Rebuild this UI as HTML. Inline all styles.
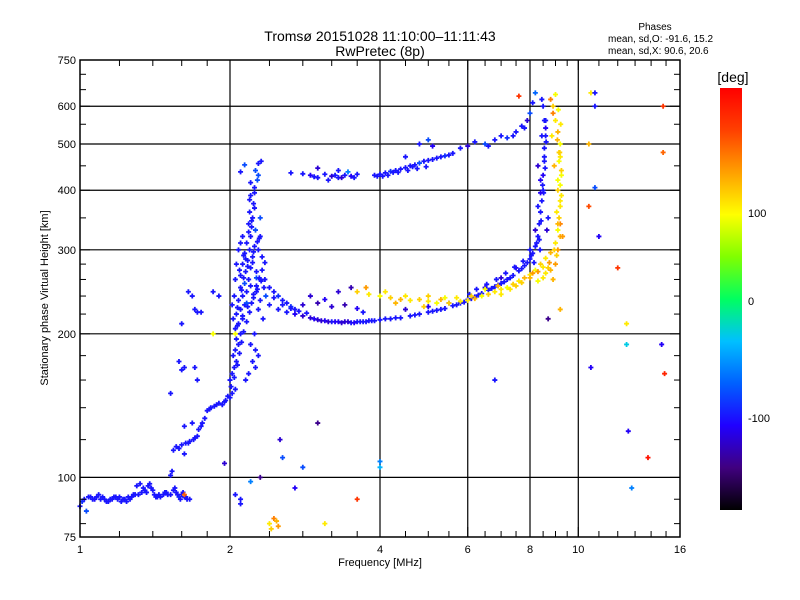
<!DOCTYPE html>
<html><head><meta charset="utf-8"><style>
body{margin:0;background:#fff;}
svg{display:block;font-family:"Liberation Sans",sans-serif;}
</style></head><body>
<svg id="c" width="800" height="600" viewBox="0 0 800 600" xmlns="http://www.w3.org/2000/svg">
<defs>
<linearGradient id="cb" x1="0" y1="1" x2="0" y2="0">
<stop offset="0" stop-color="#000000"/><stop offset="0.1" stop-color="#40007f"/><stop offset="0.2" stop-color="#2000ff"/><stop offset="0.3" stop-color="#0060ff"/><stop offset="0.4" stop-color="#00c0ff"/><stop offset="0.5" stop-color="#00ff60"/><stop offset="0.6" stop-color="#80ff00"/><stop offset="0.7" stop-color="#ffff00"/><stop offset="0.8" stop-color="#ffa000"/><stop offset="0.9" stop-color="#ff4000"/><stop offset="1" stop-color="#ff0000"/>
</linearGradient>
</defs>
<text x="380" y="41" text-anchor="middle" font-size="14">Tromsø 20151028 11:10:00–11:11:43</text>
<text x="380" y="56" text-anchor="middle" font-size="14">RwPretec (8p)</text>
<text x="655" y="30" text-anchor="middle" font-size="10">Phases</text>
<text x="608" y="42" font-size="10">mean, sd,O: -91.6, 15.2</text>
<text x="608" y="54" font-size="10">mean, sd,X:  90.6, 20.6</text>
<g id="grid"></g>
<g id="pts"></g>
<rect x="80" y="60" width="600" height="477" fill="none" stroke="#000" stroke-width="1.5"/>
<g id="ticks"></g>
<text transform="translate(48,298) rotate(-90)" text-anchor="middle" font-size="11">Stationary phase Virtual Height [km]</text>
<text x="380" y="566" text-anchor="middle" font-size="11">Frequency [MHz]</text>
<rect x="720" y="88" width="22" height="422" fill="url(#cb)"/>
<text x="733" y="82" text-anchor="middle" font-size="14">[deg]</text>
<text x="748" y="217" font-size="11">100</text>
<text x="748" y="305" font-size="11">0</text>
<text x="748" y="422" font-size="11">-100</text>
</svg>
<script>
const xTicks=[1,2,4,6,8,10,16];
const xGrid=[2,4,6,8,10];
const xMinor=[1.2,1.4,1.6,1.8,2.4,2.8,3.2,3.6,4.5,5,5.5,6.5,7,7.5,8.5,9,9.5,11,12,13,14,15];
const yTicks=[75,100,200,300,400,500,600,750];
const yGrid=[100,200,300,400,500,600];
const yMinor=[80,90,120,140,160,180,220,240,260,280,350,450,550,650,700];
// E trace
const eF=[1.0,1.01,1.02,1.04,1.05,1.07,1.08,1.1,1.12,1.13,1.15,1.17,1.19,1.21,1.23,1.25,1.27,1.29,1.31,1.33,1.35,1.37,1.39,1.41,1.43,1.45,1.47,1.49,1.52,1.54,1.56,1.58,1.6,1.62,1.64,1.66,1.3,1.32,1.52,1.53,1.03,1.09,1.18,1.36,1.06,1.11,1.14,1.16,1.2,1.22,1.24,1.26,1.28,1.34,1.38,1.4,1.42,1.44,1.48,1.5,1.55,1.57,1.59,1.61,1.63];
const eH=[87,89,90,91,91,90,91,90,90,89,90,91,90,89,90,91,91,92,92,93,94,96,95,92,91,91,92,93,92,94,93,91,92,91,90,90,96,97,101,103,85,92,91,93,90,91,89,90,91,90,89,90,92,95,97,94,91,92,93,92,95,92,90,93,91];
const eP=[-100,-90,-100,-100,-100,-105,-100,-100,-100,-100,-100,-100,-100,-100,-100,-100,-100,-100,-100,-100,-100,-100,-100,-100,-100,-100,-100,-100,-100,-100,-100,-90,-100,-100,-100,-100,-100,-100,-100,-100,-80,-100,-100,-100,-100,-100,-100,-100,-100,-100,-100,-100,-100,-100,-100,-100,-100,-100,-100,-100,-100,-100,-100,-100,-100];
// rising trace and spread column
const cF=[1.54,1.56,1.6,1.63,1.66,1.7,1.72,1.73,1.76,1.78,1.8,1.83,1.86,1.9,1.93,1.96,2.0,2.02,2.05,2.0,2.02,2.04,2.06,2.03,2.05,2.08,2.06,2.1,2.05,2.08,2.12,2.06,2.1,2.14,2.08,2.12,2.16,2.1,2.14,2.18,2.1,2.15,2.2,2.12,2.17,2.22,2.14,2.19,2.24,2.16,2.2,2.25,2.18,2.22,2.19,2.23,2.2,2.24,2.27,2.25,2.28,2.24,2.3,2.3,2.28,2.32,2.26,2.3,2.34,2.26,2.3,2.36,2.28,2.33,2.24,2.2,2.25,2.28,2.22,2.18,2.15,2.25,2.04,2.05,2.06,2.08,2.1,2.12,2.02,2.03,2.16,2.2,2.13,2.09,2.22,2.27,2.18,2.21,2.07,2.11,2.15,2.23,2.26,2.17,2.13,2.29,2.21,2.24,2.19,2.28,2.31,2.14,2.1,2.2,1.58,1.65,1.69,1.75,1.82,1.88,1.95,1.98,2.01,2.04,2.07,2.09,2.11,2.13,2.16,2.19,2.21,2.23,2.26,2.29,2.32,2.35,2.07,2.12,2.17,2.23,2.27,2.31];
const cH=[114,116,117,118,119,121,122,126,130,133,138,140,141,143,142,145,147,150,153,160,165,170,175,180,185,190,195,200,205,210,215,220,225,230,235,240,245,250,255,260,265,270,275,280,285,290,295,300,305,310,320,330,340,350,360,375,390,405,420,440,455,395,350,320,300,290,270,260,250,245,235,240,225,215,200,190,185,180,175,165,160,170,240,260,280,300,310,320,230,215,232,252,262,272,282,312,327,345,227,247,287,297,262,277,292,317,335,367,382,430,460,452,437,415,115,118,120,128,139,142,144,148,155,162,172,182,192,202,212,222,232,242,252,262,272,282,208,218,228,238,248,258];
const cP=[-100,-100,-100,-100,-100,-100,-100,-100,-100,-100,-100,-100,-100,-100,-100,-100,-100,-100,-100,-100,-100,-100,-100,-100,-100,-100,-100,-100,-100,-100,-100,-100,-100,-100,-100,-100,-100,-100,-80,-100,-100,-100,-100,-100,-100,-100,-100,-100,-100,-100,-100,-80,-100,-100,-100,-100,-100,-100,-80,-80,-100,-100,-80,-100,-100,-100,-100,-100,-100,-100,-100,-80,-100,-100,-100,-100,-100,-100,-100,-100,-100,-100,-100,-100,-100,-100,-100,-100,-100,-100,-80,-100,-100,-100,-100,-100,-100,-100,-100,-100,-100,-100,-80,-100,-100,-100,-100,-100,-100,-80,-100,-80,-100,-100,-100,-100,-100,-100,-100,-100,-100,-100,-100,-100,-100,-100,-100,-100,-100,-100,-100,-100,-100,-100,-100,-100,-100,-100,-100,-100,-100,-100];
// lower F trace (O mode)
const oF=[2.35,2.4,2.45,2.5,2.55,2.6,2.65,2.7,2.4,2.5,2.6,2.7,2.8,2.9,3.0,3.1,3.2,3.3,3.4,3.5,3.6,3.7,3.8,3.9,4.0,4.2,4.4,4.6,4.8,5.0,5.2,5.4,5.6,5.8,6.0,6.2,6.4,6.6,6.8,7.0,7.2,7.4,7.6,7.8,8.0,8.1,8.2,8.3,8.35,8.4,8.45,8.5,8.5,8.55,8.55,8.6,8.55,8.5,8.45,2.8,3.0,3.2,3.4,3.6,2.9,3.3,3.5,3.1,3.7,4.5,5.0,5.5,6.5,7.0,7.5,8.0,8.2,8.3,8.4,8.3,8.45,8.6,2.95,3.05,3.15,3.25,3.35,3.45,3.55,3.65,3.75,3.85,4.1,4.3,4.7,5.1,5.3,5.7,5.9,6.1,6.3,6.7,6.9,7.1,7.3,7.7,7.9,8.25,8.55,8.6,8.48,8.65,8.7,2.45,2.55,2.65,2.75,2.85,6.05,6.25,6.55,6.85,7.15,7.45,7.75,8.05,8.15,8.38,8.42,8.52,8.58,8.62,8.4,8.35];
const oH=[260,250,245,240,235,232,228,225,230,225,222,220,218,216,214,213,212,212,212,211,212,212,213,213,214,215,216,218,220,222,224,226,229,232,236,239,243,247,251,255,260,265,271,278,287,295,305,320,340,360,380,400,430,460,490,520,560,600,620,230,232,228,230,226,240,245,250,236,222,225,228,232,250,262,275,300,330,370,420,450,520,560,215,213,212,212,211,212,211,212,212,213,215,216,219,223,225,230,233,237,241,249,253,257,262,274,282,310,470,540,410,330,350,238,230,226,223,221,242,248,254,260,268,276,284,292,282,300,345,395,445,505,395,315];
const oP=[-100,-100,-100,-90,-100,-100,-90,-100,-100,-100,-100,-110,-120,-120,-120,-110,-100,-110,-120,-100,-100,-100,-100,-100,-100,-100,-100,-100,-100,-100,-100,-100,-100,-100,-100,-100,-100,-100,-100,-100,-100,-100,-100,-100,-100,-100,-100,-100,-100,-100,-100,-100,-110,-100,-100,-100,-100,-100,-100,-120,-130,-120,-130,-110,-120,-120,-130,-110,-100,-120,-110,-100,-110,-120,-110,-100,-120,-100,-110,-120,-100,-100,-110,-120,-120,-110,-120,-120,-110,-100,-100,-100,-100,-100,-100,-100,-100,-100,-100,-100,-100,-100,-100,-100,-100,-100,-100,-100,-100,-110,-100,-120,-100,-100,-100,-100,-100,-100,-100,-100,-100,-100,-100,-100,-100,-100,-100,-100,-100,-100,-100,-100,-110,-100];
// X mode trace
const xF=[3.6,3.8,4.0,4.2,4.4,4.6,4.8,5.0,5.2,5.5,5.8,6.0,6.2,6.4,6.6,6.8,7.0,7.2,7.4,7.6,7.8,8.0,8.2,8.4,8.6,8.8,9.0,9.1,9.15,9.2,9.2,9.25,9.2,9.2,9.1,9.0,8.9,8.8,9.0,8.9,9.0,8.7,8.5,8.3,9.1,9.2,9.05,9.1,9.15,4.1,4.3,5.0,5.4,3.75,4.5,4.9,5.3,5.7,6.1,6.5,6.9,7.3,7.7,8.1,8.5,8.8,9.05,9.2,9.3,9.25,9.1,8.95,8.85,9.15,8.9,8.6,8.75,8.95,9.1,9.2,9.25,9.18,9.08,9.22,9.12,7.0,7.5,8.0,8.3];
const xH=[245,242,240,238,236,235,236,234,232,232,234,235,237,240,242,245,248,250,254,258,262,266,272,280,288,296,310,330,350,380,410,440,470,500,530,560,600,620,635,260,280,275,262,258,300,320,360,400,460,245,232,240,238,250,240,228,236,238,240,248,252,248,256,268,276,272,292,340,320,390,420,450,520,480,580,268,282,300,340,370,430,480,510,550,590,242,252,262,270];
const xP=[90,80,70,90,100,80,90,80,70,90,80,80,100,70,90,80,80,70,90,80,100,80,70,90,80,100,80,70,90,80,70,90,80,70,100,80,90,120,70,100,110,90,80,70,110,100,80,90,70,80,100,90,70,110,80,90,100,80,90,70,100,80,90,110,80,100,90,120,110,80,70,100,80,90,120,80,110,90,100,80,70,90,100,80,70,80,90,100,110];
// upper F trace and misc blobs
const uF=[2.9,3.0,3.1,3.2,3.3,3.4,3.5,3.6,3.0,3.3,3.45,3.9,4.0,4.1,4.2,4.3,4.4,4.5,4.6,4.7,4.8,4.9,5.0,5.2,5.4,5.6,4.8,5.0,5.1,4.5,5.8,6.0,6.2,6.5,6.8,7.0,7.2,7.5,7.7,7.9,8.0,8.1,8.2,2.65,2.8,1.85,1.9,1.65,1.68,1.7,1.72,1.75,1.6,1.58,1.6,1.62,1.7,1.72,1.68,1.62,1.52,1.62,3.15,3.35,4.05,4.25,4.65,5.3,6.6,7.4,7.8,2.95,3.25,3.55,3.95,4.15,4.35,4.55,4.75,4.95,5.1,5.5];
const uH=[430,425,432,428,425,430,428,432,445,440,437,430,432,435,438,440,443,446,450,452,456,460,462,467,472,478,500,510,495,470,490,495,505,500,510,520,515,530,545,560,580,610,640,435,433,245,240,245,240,225,222,222,210,175,168,170,170,160,130,128,150,112,420,425,428,436,448,470,495,520,540,427,430,425,428,430,436,440,444,448,464,474];
const uP=[-110,-100,-100,-120,-100,-100,-110,-100,-120,-100,-60,-100,-100,-100,-90,-100,-100,-100,-100,-100,-80,-100,-100,-100,-90,-100,-100,-80,-110,-100,-100,-120,-100,-80,-100,-100,-90,-100,-100,-120,-80,-100,-70,-100,-100,-100,-100,-100,-100,-100,-100,-100,-100,-100,-100,-100,-100,-100,-100,-100,-100,-100,-100,-120,-100,-100,-100,-100,-100,-100,-100,-100,-100,-100,-100,-100,-100,-100,-100,-100,-100,-100];
// scattered isolated echoes
const sF=[10.6,10.8,10.8,14.8,14.8,10.5,10.8,10.5,11,12,12.5,12.5,14.7,14.9,10.6,12.6,13.8,12.8,6.8,3.1,3.6,2.4,2.45,2.5,2.42,2.48,4,4,2.7,2.3,1.95,2.8,2.55,2.52,3.0,2.1,2.05,2.1,2.2,1.85,2.05,1.62,8.7,9.2,7.6];
const sH=[640,640,600,480,600,500,405,370,320,275,210,190,190,165,170,125,110,95,160,80,90,80,82,79,78,81,105,108,95,100,107,105,110,120,130,90,92,88,98,200,200,92,215,225,630];
const sP=[80,-100,-100,130,150,100,-80,140,-110,150,80,-30,-110,160,-110,-110,170,-60,-100,80,150,80,120,110,90,100,-40,-60,-110,-140,-120,-80,-80,-120,-140,-100,-100,-100,-60,70,70,130,-140,100,150];

const X0=80,X1=680,Y0=537,Y1=60;
function xs(f){return X0+(X1-X0)*Math.log2(f)/4;}
function ys(h){return Y0-(Y0-Y1)*Math.log10(h/75);}
const stops=[[0,[0,0,0]],[0.1,[64,0,127]],[0.2,[32,0,255]],[0.3,[0,96,255]],[0.4,[0,192,255]],[0.5,[0,255,96]],[0.6,[128,255,0]],[0.7,[255,255,0]],[0.8,[255,160,0]],[0.9,[255,64,0]],[1,[255,0,0]]];
function col(p){let t=(p+180)/360;t=Math.max(0,Math.min(1,t));
 for(let i=1;i<stops.length;i++){if(t<=stops[i][0]){const a=stops[i-1],b=stops[i];const u=(t-a[0])/(b[0]-a[0]);
 return 'rgb('+a[1].map((v,k)=>Math.round(v+(b[1][k]-v)*u)).join(',')+')';}}return 'red';}
const NS='http://www.w3.org/2000/svg';
function mk(tag,attrs,parent){const e=document.createElementNS(NS,tag);for(const k in attrs)e.setAttribute(k,attrs[k]);parent.appendChild(e);return e;}
const grid=document.getElementById('grid'),ticks=document.getElementById('ticks'),pts=document.getElementById('pts');
xGrid.forEach(f=>{const l=mk('line',{x1:xs(f),x2:xs(f),y1:Y1,y2:Y0,stroke:'#000','stroke-width':1.2},grid);

});
yGrid.forEach(h=>{const l=mk('line',{x1:X0,x2:X1,y1:ys(h),y2:ys(h),stroke:'#000','stroke-width':1.2},grid);

});
function xt(f,len){[[Y0,Y0-len],[Y1,Y1+len]].forEach(a=>{const l=mk('line',{x1:xs(f),x2:xs(f),y1:a[0],y2:a[1],stroke:'#000'},ticks);

});}
function yt(h,len){[[X0,X0+len],[X1,X1-len]].forEach(a=>{const l=mk('line',{x1:a[0],x2:a[1],y1:ys(h),y2:ys(h),stroke:'#000'},ticks);

});}
xTicks.forEach(f=>{xt(f,10);const t=mk('text',{x:xs(f),y:553,'text-anchor':'middle','font-size':11},ticks);t.textContent=f;

});
xMinor.forEach(f=>xt(f,6));
yTicks.forEach(h=>{yt(h,10);const t=mk('text',{x:76,y:ys(h)+4,'text-anchor':'end','font-size':11},ticks);t.textContent=h;

});
yMinor.forEach(h=>yt(h,6));
function plot(F,H,P,name){for(let i=0;i<F.length;i++){const x=xs(F[i]),y=ys(H[i]);
 if(x<X0||x>X1||y<Y1||y>Y0)continue;
 const c=col(P[i]);
 const g=mk('path',{d:'M'+(x-2.5)+' '+y+'h5M'+x+' '+(y-2.5)+'v5',stroke:c,'stroke-width':1.8,fill:'none'},pts);
 
 }}
plot(eF,eH,eP,'e-trace-point');
plot(cF,cH,cP,'spread-column-point');
plot(oF,oH,oP,'o-trace-point');
plot(xF,xH,xP,'x-trace-point');
plot(uF,uH,uP,'upper-f-point');
plot(sF,sH,sP,'scatter-point');
</script>
</body></html>
